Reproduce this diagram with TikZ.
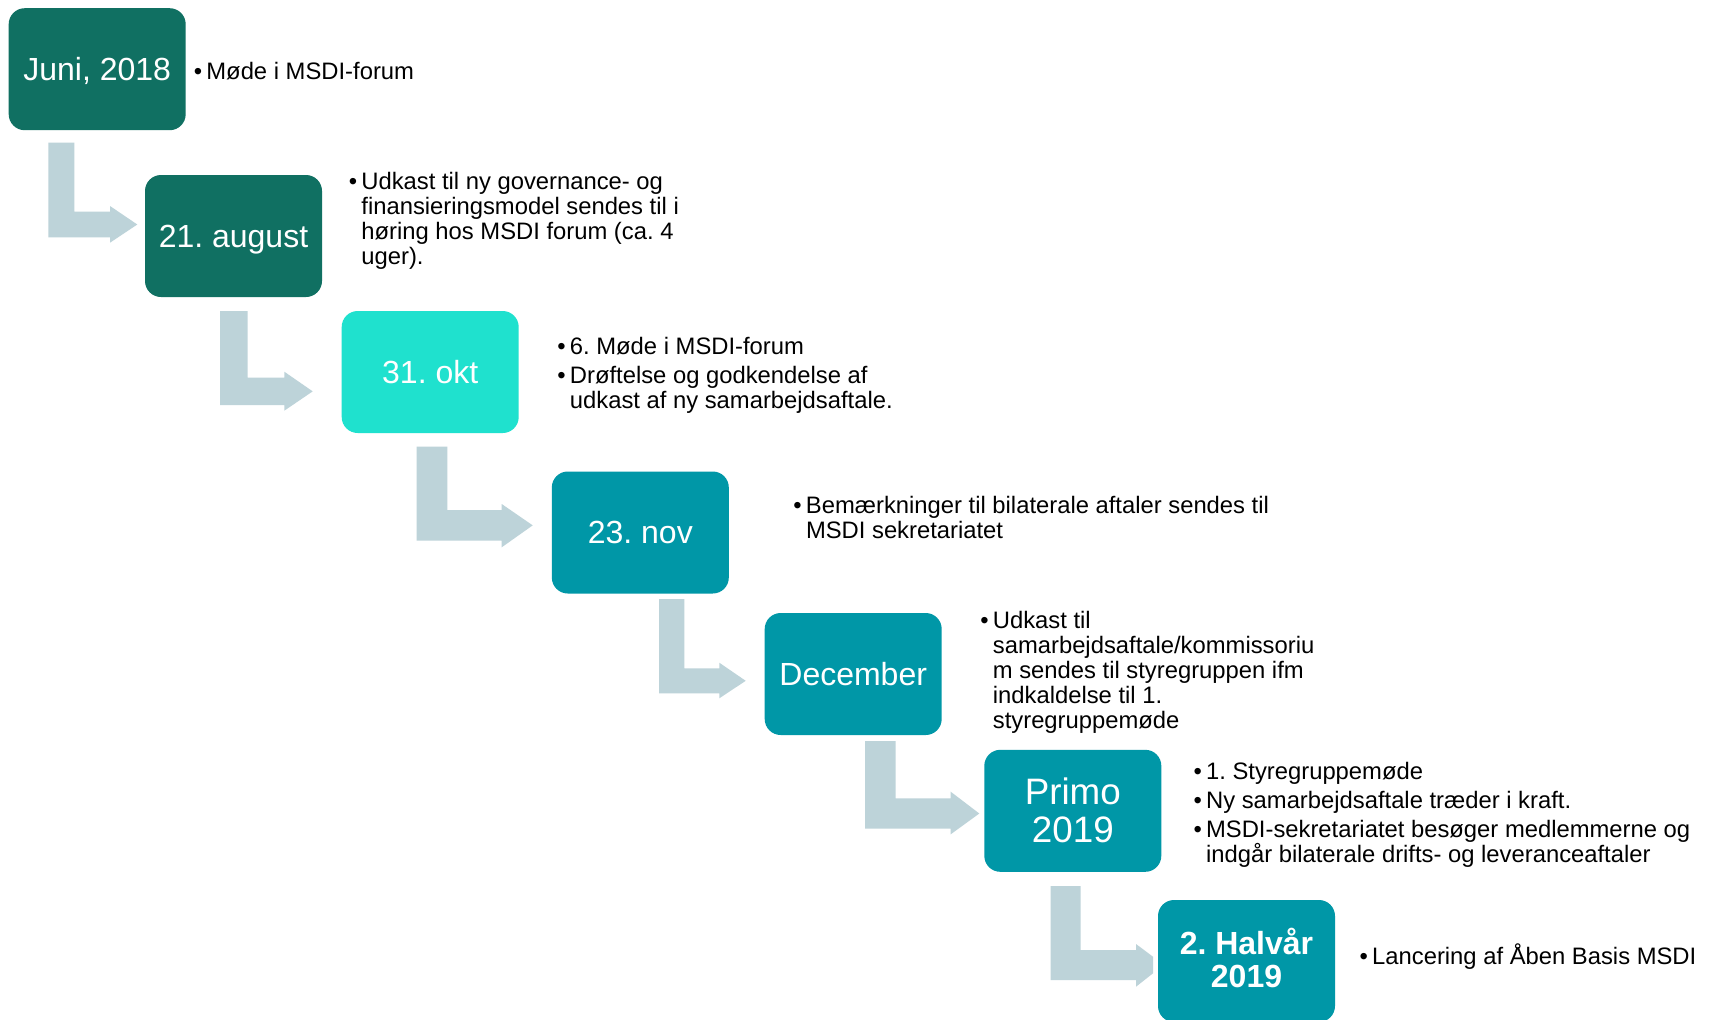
\documentclass[tikz,border=0pt]{standalone}
\usepackage{fontspec}
\setmainfont{Liberation Sans}
\frenchspacing
\definecolor{darkteal}{RGB}{16,112,98}
\definecolor{aquabox}{RGB}{31,225,206}
\definecolor{tealbox}{RGB}{0,151,167}
\definecolor{arrowc}{RGB}{189,211,217}
\tikzset{
  datebox/.style={rounded corners=8pt, minimum width=88.5pt, minimum height=61pt,
    inner sep=0pt, text=white, font=\fontsize{16}{19}\selectfont, align=center},
  desc/.style={anchor=north west, inner sep=0pt, align=left,
    font=\fontsize{11.9}{12.5}\selectfont, text=black},
  larr/.style={fill=arrowc}
}
\newcommand{\bul}{\llap{\textbullet\hspace{2.1pt}}}
\newcommand{\fl}{\rule{0pt}{12pt}}
\newcommand{\bs}{\rule[-0.212em]{0pt}{1.117em}}
% xL xR yTop yBarTop yBarBottom xHeadBase yHeadTop yHeadBottom xTip
\newcommand{\larrowshape}[9]{%
  \fill[larr] (#1,#3) -- (#2,#3) -- (#2,#4) -- (#6,#4) -- (#6,#7)
    -- (#9,{(#4+#5)/2}) -- (#6,#8) -- (#6,#5) -- (#1,#5) -- cycle;}
\begin{document}
\begin{tikzpicture}[x=0.5pt,y=-0.5pt]
\useasboundingbox (0,0) rectangle (1714,1019);
\clip (0,0) rectangle (1714,1019);
\fill[white] (0,0) rectangle (1714,1019);

% L-shaped arrows
\larrowshape{48.3}{74.3}{142.7}{211.7}{237.3}{110}{206}{242.7}{137.3}
\larrowshape{220}{247.7}{311}{377.7}{405}{284.3}{371.7}{410.7}{312.7}
\larrowshape{416.7}{447.3}{446.7}{510}{540.7}{501.7}{504}{547.3}{532.7}
\larrowshape{659}{684.3}{599}{668.3}{693.3}{719.3}{662.7}{698.3}{745.7}
\larrowshape{865}{895.7}{741}{798.3}{828.7}{950.7}{791.7}{834.3}{979.3}
\fill[larr] (1050.7,886) -- (1080.7,886) -- (1080.7,950) -- (1136,950) -- (1136,944)
  -- (1153,956.7) -- (1153,973.3) -- (1136,986.7) -- (1136,980) -- (1050.7,980) -- cycle;

% date boxes
\node[datebox, fill=darkteal] (b1) at (97.2,69.2) {\bs Juni, 2018};
\node[datebox, fill=darkteal] (b2) at (233.5,236) {\bs 21. august};
\node[datebox, fill=aquabox] (b3) at (430.2,372) {\bs 31. okt};
\node[datebox, fill=tealbox] (b4) at (640.3,532.5) {\bs 23. nov};
\node[datebox, fill=tealbox] (b5) at (853.2,674) {\bs December};
\node[datebox, fill=tealbox, font=\fontsize{18.4}{19}\selectfont] (b6) at (1072.8,810.8) {Primo\\2019};
\node[datebox, fill=tealbox, font=\fontsize{16}{16.5}\selectfont\bfseries] (b7) at (1246.5,961) {2. Halvår\\2019\rule[-3pt]{0pt}{3pt}};

% descriptions
\node[desc] (d1) at (206,55) {\fl\bul Møde i MSDI-forum};
\node[desc] (d2) at (361,165) {\fl\bul Udkast til ny governance- og\\finansieringsmodel sendes til i\\høring hos MSDI forum (ca. 4\\uger).};
\node[desc] (d3) at (569.5,330.5) {\fl\bul 6. Møde i MSDI-forum\\[2pt]\bul Drøftelse og godkendelse af\\udkast af ny samarbejdsaftale.};
\node[desc] (d4) at (805.6,489) {\fl\bul Bemærkninger til bilaterale aftaler sendes til\\MSDI sekretariatet};
\node[desc] (d5) at (992.5,604) {\fl\bul Udkast til\\samarbejdsaftale/kommissoriu\\m sendes til styregruppen ifm\\indkaldelse til 1.\\styregruppemøde};
\node[desc] (d6) at (1205.7,754.6) {\fl\bul 1. Styregruppemøde\\[2pt]\bul Ny samarbejdsaftale træder i kraft.\\[2pt]\bul MSDI-sekretariatet besøger medlemmerne og\\indgår bilaterale drifts- og leveranceaftaler};
\node[desc] (d7) at (1371.8,940.5) {\fl\bul Lancering af Åben Basis MSDI};
\end{tikzpicture}
\end{document}
